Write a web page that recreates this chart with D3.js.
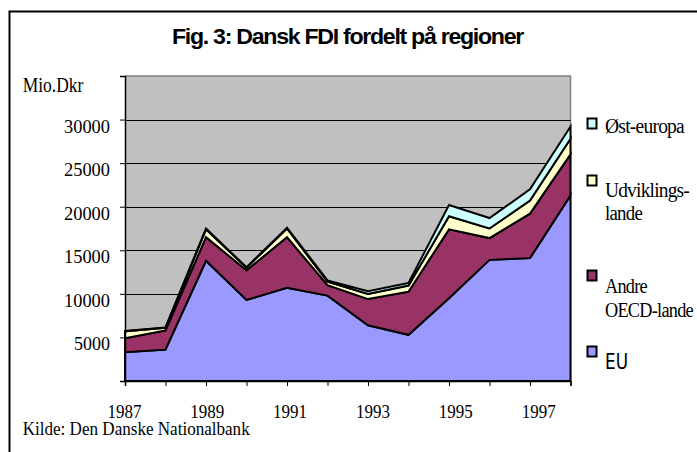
<!DOCTYPE html>
<html>
<head>
<meta charset="utf-8">
<script src="https://cdn.jsdelivr.net/npm/d3@7"></script>
<style>
  body { margin: 0; background: #fff; }
  text { font-family: "Liberation Serif", "Times New Roman", serif; fill: #000; }
</style>
</head>
<body>
<div id="chart"></div>
<script>
// Data (Mio. Dkr)
let years = [1987, 1988, 1989, 1990, 1991, 1992, 1993, 1994, 1995, 1996, 1997, 1998];
let eu = [3300, 3600, 13800, 9300, 10700, 9800, 6400, 5300, 9500, 13900, 14100, 21300];
let andreOecd = [1600, 2200, 2700, 3400, 5800, 1200, 3000, 4950, 7900, 2500, 5100, 4700];
let udvikling = [800, 300, 900, 300, 1000, 400, 600, 700, 1500, 1100, 1500, 1800];
let oestEuropa = [50, 50, 100, 50, 100, 150, 300, 300, 1300, 1200, 1300, 1400];
let yTicks = [5000, 10000, 15000, 20000, 25000, 30000];
let xLabels = [1987, 1989, 1991, 1993, 1995, 1997];

let keys = ["eu", "andre", "udv", "oest"];
let colors = {eu: "#9999FF", andre: "#993366", udv: "#FFFFCC", oest: "#CCFFFF"};

// Dimensions
let W = 697, H = 452;
let plot = {left: 125, right: 570.5, top: 76, bottom: 381};

let svg = d3.select("#chart").append("svg")
    .attr("width", W)
    .attr("height", H);

// outer frame (runs off the right/bottom edge)
svg.append("rect")
    .attr("x", 9.5).attr("y", 11.5)
    .attr("width", 720).attr("height", 470)
    .attr("fill", "#fff")
    .attr("stroke", "#000")
    .attr("stroke-width", 2);

// Scales
let x = d3.scaleLinear().domain([1987, 1998]).range([plot.left, plot.right]);
let y = d3.scaleLinear().domain([0, 35000]).range([plot.bottom, plot.top]);
let xLab = d3.scaleLinear().domain([1987, 1997]).range([124.4, 538.7]);

// Plot background
svg.append("rect")
    .attr("x", plot.left).attr("y", plot.top)
    .attr("width", plot.right - plot.left)
    .attr("height", plot.bottom - plot.top)
    .attr("fill", "#C0C0C0");

// gray border on top and right
svg.append("path")
    .attr("d", `M${plot.left},${plot.top}H${plot.right}V${plot.bottom}`)
    .attr("fill", "none")
    .attr("stroke", "#808080")
    .attr("stroke-width", 1.5);

// Gridlines
svg.append("g").selectAll("line")
    .data(yTicks)
    .enter().append("line")
    .attr("x1", plot.left).attr("x2", plot.right)
    .attr("y1", d => Math.round(y(d)) + 0.5)
    .attr("y2", d => Math.round(y(d)) + 0.5)
    .attr("stroke", "#000")
    .attr("stroke-width", 1);

// Stack data
let table = years.map((yr, i) => ({
    year: yr, eu: eu[i], andre: andreOecd[i], udv: udvikling[i], oest: oestEuropa[i]
}));
let series = d3.stack().keys(keys)(table);

let area = d3.area()
    .x(d => x(d.data.year))
    .y0(d => y(d[0]))
    .y1(d => y(d[1]));

svg.append("g").selectAll("path")
    .data(series)
    .enter().append("path")
    .attr("d", area)
    .attr("fill", d => colors[d.key])
    .attr("stroke", "#000")
    .attr("stroke-width", 2)
    .attr("stroke-linejoin", "miter");

// Y axis
let yAxis = d3.axisLeft(y)
    .tickValues(d3.range(0, 35001, 5000))
    .tickSize(5)
    .tickFormat(d => (d > 0 && d < 35000) ? d : "");

let gy = svg.append("g")
    .attr("transform", `translate(${plot.left},0)`)
    .call(yAxis);
gy.select(".domain").attr("stroke", "#000").attr("stroke-width", 1.5);
gy.selectAll(".tick line").attr("stroke", "#000");
gy.selectAll(".tick text")
    .attr("x", -15)
    .attr("dy", null)
    .attr("y", 12.5)
    .attr("font-family", "Liberation Serif")
    .attr("font-size", 19)
    .attr("textLength", d => String(d).length === 5 ? 46 : 36)
    .attr("lengthAdjust", "spacingAndGlyphs");

// X axis (ticks only, labels drawn separately)
let xAxis = d3.axisBottom(x)
    .tickValues(years)
    .tickSize(5)
    .tickFormat("");

let gx = svg.append("g")
    .attr("transform", `translate(0,${plot.bottom})`)
    .call(xAxis);
gx.select(".domain").attr("stroke", "#000").attr("stroke-width", 1.5);
gx.selectAll(".tick line").attr("stroke", "#000");

svg.append("g").selectAll("text")
    .data(xLabels)
    .enter().append("text")
    .attr("x", d => xLab(d))
    .attr("y", 417.5)
    .attr("text-anchor", "middle")
    .attr("font-size", 19)
    .attr("textLength", 34)
    .attr("lengthAdjust", "spacingAndGlyphs")
    .text(d => d);

// Title
svg.append("text")
    .attr("x", 172)
    .attr("y", 44)
    .attr("font-weight", "bold")
    .attr("font-size", 21.5)
    .attr("textLength", 351)
    .attr("lengthAdjust", "spacingAndGlyphs")
    .style("font-family", "'Liberation Sans', Arial, sans-serif")
    .style("letter-spacing", "-1.2px")
    .text("Fig. 3: Dansk FDI fordelt på regioner");

// Unit label
svg.append("text")
    .attr("x", 22.7).attr("y", 91.7)
    .attr("font-size", 20)
    .attr("textLength", 60.6)
    .attr("lengthAdjust", "spacingAndGlyphs")
    .text("Mio.Dkr");

// Source
svg.append("text")
    .attr("x", 22.7).attr("y", 435)
    .attr("font-size", 19)
    .attr("textLength", 227)
    .attr("lengthAdjust", "spacingAndGlyphs")
    .text("Kilde: Den Danske Nationalbank");

// Legend
let legend = [
    {key: "oest", boxY: 118.5, lines: [{t: "Øst-europa", y: 133.3, w: 79}]},
    {key: "udv", boxY: 175.5, lines: [{t: "Udviklings-", y: 196.7, w: 84}, {t: "lande", y: 220, w: 37}]},
    {key: "andre", boxY: 270.5, lines: [{t: "Andre", y: 293.3, w: 42}, {t: "OECD-lande", y: 316.7, w: 88}]},
    {key: "eu", boxY: 346.5, lines: [{t: "EU", y: 369, w: 23, sans: true}]}
];

let lg = svg.append("g").selectAll("g")
    .data(legend)
    .enter().append("g");

lg.append("rect")
    .attr("x", 587.5)
    .attr("y", d => d.boxY)
    .attr("width", 9)
    .attr("height", 10)
    .attr("fill", d => colors[d.key])
    .attr("stroke", "#000")
    .attr("stroke-width", 2);

lg.selectAll("text")
    .data(d => d.lines)
    .enter().append("text")
    .attr("x", 605)
    .attr("y", d => d.y)
    .attr("font-size", d => d.sans ? 21 : 20)
    .style("font-family", d => d.sans ? "'DejaVu Sans', sans-serif" : null)
    .style("letter-spacing", d => d.sans ? null : "-0.8px")
    .attr("textLength", d => d.w)
    .attr("lengthAdjust", "spacingAndGlyphs")
    .text(d => d.t);
</script>
</body>
</html>
